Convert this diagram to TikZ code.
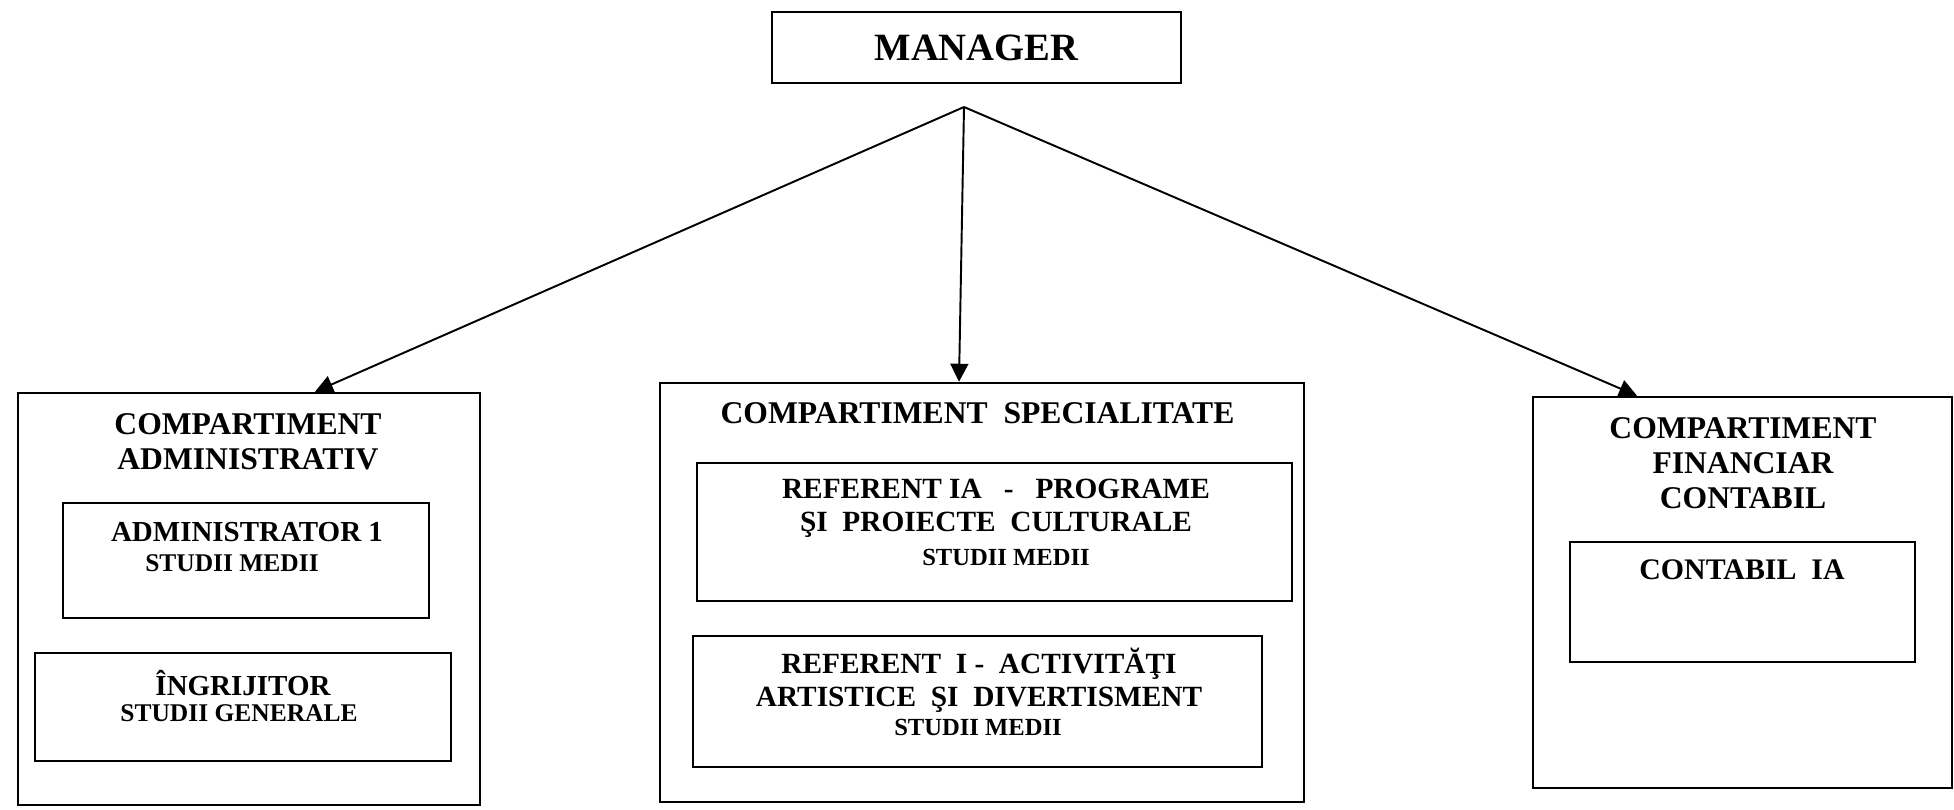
\documentclass[tikz,border=0pt]{standalone}
\usepackage{fontspec}
\setmainfont{Liberation Serif}
\usetikzlibrary{arrows.meta}

\begin{document}
\begin{tikzpicture}[
                    x=0.02cm, y=-0.02cm,
                    >={Triangle[length=0.36cm, width=0.36cm]},
                    box/.style={draw, line width=1.5pt, inner sep=0pt},
                    title/.style={font=\fontsize{18}{20}\selectfont\bfseries, align=center},
                    job/.style={font=\fontsize{16.5}{19}\selectfont\bfseries, align=center},
                    studii/.style={font=\fontsize{14.5}{16}\selectfont\bfseries},
                    link/.style={->, line width=1.1pt}
            ]
                \useasboundingbox (0,0) rectangle (1954,809);

                \node [box, minimum width=8.18cm, minimum height=1.42cm,
                       font=\fontsize{22}{24}\selectfont\bfseries] (manager) at (976.5,47.5) {MANAGER};
                \coordinate (split) at (964,107);

                \node [box, minimum width=9.24cm, minimum height=8.24cm] (admin) at (249,599) {};
                \node [title] (admintitle) at (248,442) {COMPARTIMENT\\ADMINISTRATIV};
                \node [box, minimum width=7.32cm, minimum height=2.3cm] (adm1) at (246,560.5) {};
                \node [job] (adm1job) at (247,532) {ADMINISTRATOR 1};
                \node [studii] (adm1studii) at (232,563) {STUDII MEDII};
                \node [box, minimum width=8.32cm, minimum height=2.16cm] (ingr) at (243,707) {};
                \node [job] (ingrjob) at (243,683) {ÎNGRIJITOR};
                \node [studii] (ingrstudii) at (239,713) {STUDII GENERALE};

                \node [box, minimum width=12.88cm, minimum height=8.38cm] (spec) at (982,592.5) {};
                \node [title] (spectitle) at (977.5,413) {COMPARTIMENT~~SPECIALITATE};
                \node [box, minimum width=11.9cm, minimum height=2.76cm] (refia) at (994.5,532) {};
                \node [job, font=\fontsize{16.7}{19}\selectfont\bfseries] (refiajob) at (996,508.5) {REFERENT IA~~~-~~~PROGRAME\\ŞI~~PROIECTE~~CULTURALE};
                \node [studii, font=\fontsize{14}{16}\selectfont\bfseries] (refiastudii) at (1006,557) {STUDII MEDII};
                \node [box, minimum width=11.38cm, minimum height=2.62cm] (refi) at (977.5,701.5) {};
                \node [job, font=\fontsize{16.7}{19}\selectfont\bfseries] (refijob) at (979,680) {REFERENT~~I~-~~ACTIVITĂŢI\\ARTISTICE~~ŞI~~DIVERTISMENT};
                \node [studii, font=\fontsize{14}{16}\selectfont\bfseries] (refistudii) at (978,727) {STUDII MEDII};

                \node [box, minimum width=8.38cm, minimum height=7.82cm] (fin) at (1742.5,592.5) {};
                \node [title] (fintitle) at (1743,463) {COMPARTIMENT\\FINANCIAR\\CONTABIL};
                \node [box, minimum width=6.9cm, minimum height=2.4cm] (contabil) at (1742.5,602) {};
                \node [job, font=\fontsize{17}{19}\selectfont\bfseries] (contabiljob) at (1742,570) {CONTABIL~~IA};

                \draw [link] (split) -- ([xshift=1.32cm]admin.north);
                \draw [link] (split) -- ([xshift=-0.46cm]spec.north);
                \draw [link] (split) -- ([xshift=-2.11cm]fin.north);
            \end{tikzpicture}
\end{document}
